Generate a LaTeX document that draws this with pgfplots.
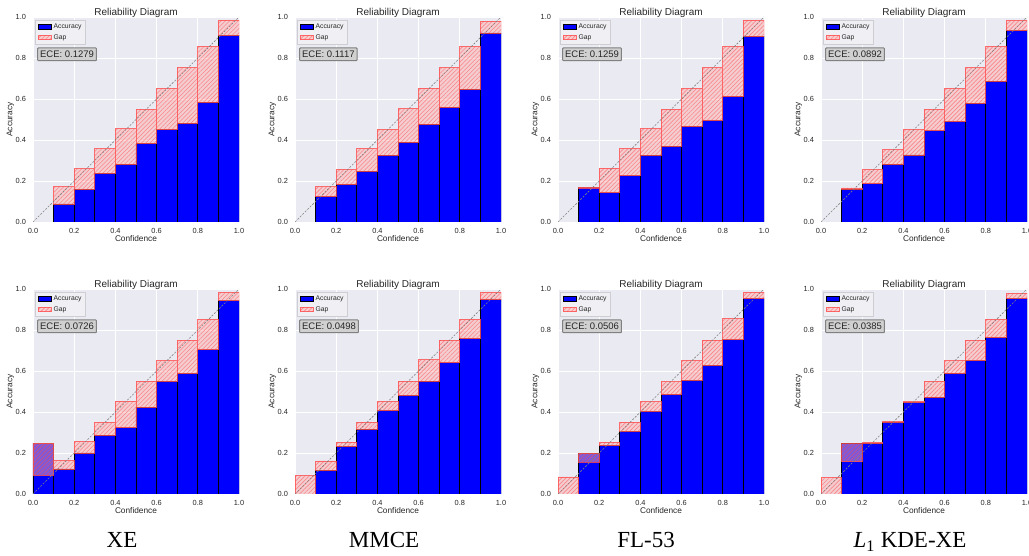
\documentclass[border=0pt]{standalone}
\usepackage{fontspec}
\setmainfont{Liberation Sans}
\newfontfamily\capfont{Liberation Serif}
\usepackage{pgfplots}
\pgfplotsset{compat=1.18}
\usepackage{pgfplotstable}
\usetikzlibrary{patterns.meta}

\definecolor{bgc}{RGB}{234,234,242}
\definecolor{gapfill}{RGB}{255,178,178}
\definecolor{gapedge}{RGB}{255,77,77}
\definecolor{ecefill}{RGB}{208,208,208}
\definecolor{eceedge}{RGB}{128,128,128}
\definecolor{txt}{RGB}{38,38,38}

% bin centre, accuracy, lower end of gap bar (min of accuracy and confidence), gap size
\pgfplotstableread{
x acc lo gap
0.05 0 0 0
0.15 0.088 0.088 0.083
0.25 0.160 0.160 0.099
0.35 0.238 0.238 0.119
0.45 0.282 0.282 0.172
0.55 0.384 0.384 0.165
0.65 0.450 0.450 0.200
0.75 0.482 0.482 0.270
0.85 0.585 0.585 0.270
0.95 0.910 0.910 0.075
}\xeTop
\pgfplotstableread{
x acc lo gap
0.05 0 0 0
0.15 0.124 0.124 0.047
0.25 0.184 0.184 0.072
0.35 0.248 0.248 0.109
0.45 0.326 0.326 0.125
0.55 0.389 0.389 0.163
0.65 0.477 0.477 0.176
0.75 0.560 0.560 0.192
0.85 0.648 0.648 0.207
0.95 0.922 0.922 0.058
}\mmceTop
\pgfplotstableread{
x acc lo gap
0.05 0 0 0
0.15 0.170 0.165 0.005
0.25 0.142 0.142 0.120
0.35 0.225 0.225 0.132
0.45 0.326 0.326 0.128
0.55 0.370 0.370 0.179
0.65 0.467 0.467 0.183
0.75 0.495 0.495 0.257
0.85 0.611 0.611 0.244
0.95 0.906 0.906 0.079
}\flTop
\pgfplotstableread{
x acc lo gap
0.05 0 0 0
0.15 0.160 0.160 0.006
0.25 0.186 0.186 0.070
0.35 0.282 0.282 0.070
0.45 0.327 0.327 0.124
0.55 0.445 0.445 0.104
0.65 0.490 0.490 0.160
0.75 0.580 0.580 0.172
0.85 0.687 0.687 0.168
0.95 0.933 0.933 0.049
}\kdeTop
\pgfplotstableread{
x acc lo gap
0.05 0.248 0.091 0.157
0.15 0.122 0.122 0.040
0.25 0.200 0.200 0.055
0.35 0.287 0.287 0.062
0.45 0.323 0.323 0.130
0.55 0.424 0.424 0.126
0.65 0.549 0.549 0.100
0.75 0.588 0.588 0.162
0.85 0.703 0.703 0.149
0.95 0.942 0.942 0.042
}\xeBot
\pgfplotstableread{
x acc lo gap
0.05 0 0 0.089
0.15 0.117 0.117 0.044
0.25 0.232 0.232 0.021
0.35 0.317 0.317 0.034
0.45 0.407 0.407 0.044
0.55 0.481 0.481 0.069
0.65 0.550 0.550 0.104
0.75 0.640 0.640 0.110
0.85 0.758 0.758 0.094
0.95 0.948 0.948 0.036
}\mmceBot
\pgfplotstableread{
x acc lo gap
0.05 0 0 0.083
0.15 0.198 0.156 0.042
0.25 0.237 0.237 0.015
0.35 0.305 0.305 0.046
0.45 0.403 0.403 0.048
0.55 0.485 0.485 0.062
0.65 0.554 0.554 0.097
0.75 0.627 0.627 0.123
0.85 0.752 0.752 0.102
0.95 0.953 0.953 0.031
}\flBot
\pgfplotstableread{
x acc lo gap
0.05 0 0 0.080
0.15 0.245 0.157 0.088
0.25 0.247 0.247 0.005
0.35 0.349 0.349 0.005
0.45 0.446 0.446 0.005
0.55 0.472 0.472 0.078
0.65 0.588 0.588 0.061
0.75 0.651 0.651 0.099
0.85 0.763 0.763 0.089
0.95 0.953 0.953 0.026
}\kdeBot

\pgfplotsset{
  frame/.style={width=206pt, height=205pt, scale only axis, anchor=south west,
    xmin=0, xmax=1, ymin=0, ymax=1, enlargelimits=false},
  panel/.style={frame,
    ybar stacked, bar width=0.1,
    xtick={0,0.2,0.4,0.6,0.8,1}, ytick={0,0.2,0.4,0.6,0.8,1},
    /pgf/number format/.cd, fixed, fixed zerofill, precision=1, assume math mode=true, /pgfplots/.cd,
    grid=major, grid style={white, line width=0.8pt},
    major tick length=0pt,
    axis line style={draw=none},
    axis background/.style={fill=bgc},
    tick label style={font=\fontsize{7.4}{9}\selectfont, text=txt},
    xticklabel style={yshift=-2.5pt},
    yticklabel style={xshift=-3.5pt},
    title={Reliability Diagram},
    title style={font=\fontsize{10}{12}\selectfont, text=txt, at={(0.5,1)}, anchor=base, yshift=-5pt},
    xlabel={Confidence}, ylabel={Accuracy},
    label style={font=\fontsize{8.3}{10}\selectfont, text=txt},
    xlabel style={at={(axis description cs:0.5,-0.093)}, anchor=base},
    ylabel style={at={(axis description cs:-0.11,0.5)}, anchor=center},
    legend cell align=left,
    legend style={at={(0.012,0.985)}, anchor=north west,
      font=\fontsize{6.8}{8}\selectfont, text=txt,
      fill={rgb,255:red,240;green,240;blue,244}, draw={rgb,255:red,205;green,205;blue,210},
      line width=0.5pt, inner xsep=2pt, inner ysep=1.5pt, row sep=0.5pt},
  },
  rect legend/.style={legend image code/.code={\draw[##1] (0pt,-2.3pt) rectangle (13pt,2.3pt);}},
  accbar/.style={fill=blue, draw=black, line width=0.8pt, rect legend},
  gapbar/.style={fill=gapfill, fill opacity=0.5, draw=gapedge, draw opacity=0.55, line width=0.9pt,
    postaction={pattern={Lines[angle=45,distance=3pt,line width=0.6pt]}, pattern color=gapedge},
    rect legend},
}

\newcommand{\panel}[4]{%
\begin{axis}[panel, at={(#1,#2)}]
\addplot[accbar] table[x=x,y=acc]{#3};
\addlegendentry{Accuracy}
\addlegendimage{gapbar}
\addlegendentry{Gap}
\node[anchor=west, fill=ecefill, draw=eceedge, line width=1pt, rounded corners=0.8pt,
  font=\fontsize{9.5}{11}\selectfont, text=txt, inner xsep=2.5pt, inner ysep=3pt]
  at (axis cs:0.02,0.818) {ECE: #4};
\end{axis}
\begin{axis}[frame, hide axis, ybar stacked, bar width=0.1, at={(#1,#2)}]
\addplot[draw=none, fill=none] table[x=x,y=lo]{#3};
\addplot[gapbar] table[x=x,y=gap]{#3};
\end{axis}
\begin{axis}[frame, hide axis, at={(#1,#2)}]
\addplot[gray, line width=0.6pt, dash pattern=on 2pt off 1.5pt] coordinates {(0,0)(1,1)};
\end{axis}}

\begin{document}
\begin{tikzpicture}
\panel{33pt}{334pt}{\xeTop}{0.1279}
\panel{295pt}{334pt}{\mmceTop}{0.1117}
\panel{558pt}{334pt}{\flTop}{0.1259}
\panel{821pt}{334pt}{\kdeTop}{0.0892}
\panel{33pt}{62pt}{\xeBot}{0.0726}
\panel{295pt}{62pt}{\mmceBot}{0.0498}
\panel{558pt}{62pt}{\flBot}{0.0506}
\panel{821pt}{62pt}{\kdeBot}{0.0385}
\begin{scope}[every node/.style={font=\capfont\fontsize{23}{26}\selectfont, anchor=base}]
\node at (122pt,8pt) {XE};
\node at (384pt,8pt) {MMCE};
\node at (646pt,8pt) {FL-53};
\node at (910pt,8pt) {\textit{L}\textsubscript{1} KDE-XE};
\end{scope}
\pgfresetboundingbox
\path[use as bounding box] (0,0) rectangle (1029pt,556pt);
\end{tikzpicture}
\end{document}
